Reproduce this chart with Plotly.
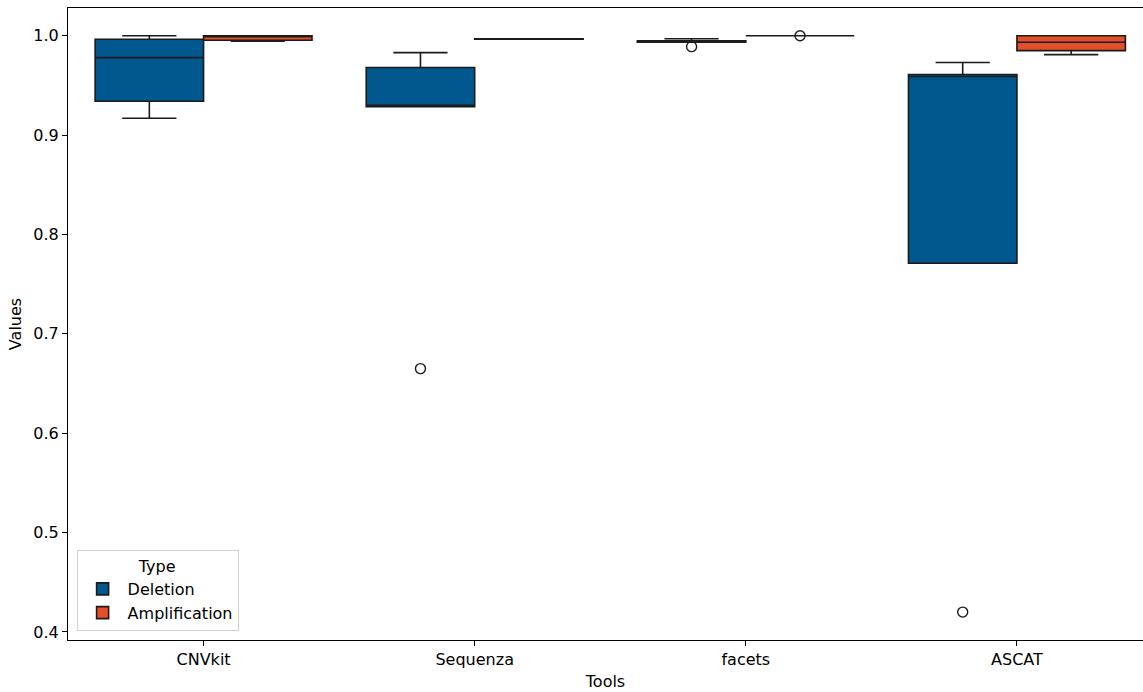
import plotly.graph_objects as go

# Tools on the x axis
tools = ["CNVkit", "Sequenza", "facets", "ASCAT"]

# Deletion box statistics per tool
del_lower = [0.917, 0.9285, 0.9935, 0.771]
del_q1 = [0.934, 0.9285, 0.9935, 0.771]
del_median = [0.978, 0.930, 0.994, 0.959]
del_q3 = [0.9965, 0.968, 0.995, 0.961]
del_upper = [1.0, 0.983, 0.997, 0.973]
del_outlier_tool = ["Sequenza", "facets", "ASCAT"]
del_outlier_value = [0.665, 0.989, 0.420]

# Amplification box statistics per tool
amp_lower = [0.9945, 0.9965, 1.0, 0.981]
amp_q1 = [0.9955, 0.9965, 1.0, 0.985]
amp_median = [0.9995, 0.997, 1.0, 0.9935]
amp_q3 = [1.0, 0.997, 1.0, 1.0]
amp_upper = [1.0, 0.997, 1.0, 1.0]
amp_outlier_tool = ["facets"]
amp_outlier_value = [1.0]

DEL_COLOR = "#01588f"
AMP_COLOR = "#e1502b"
EDGE = "#1b1b1b"
FONT = "DejaVu Sans"
FS = 16

pos = {t: i for i, t in enumerate(tools)}
offset = 0.2
box_w = 0.4

fig = go.Figure()

fig.add_trace(go.Box(
    name="Deletion",
    x=[pos[t] - offset for t in tools],
    lowerfence=del_lower, q1=del_q1, median=del_median, q3=del_q3, upperfence=del_upper,
    width=box_w, whiskerwidth=0.5,
    fillcolor=DEL_COLOR, line=dict(color=EDGE, width=1.6),
    boxpoints=False, hoverinfo="skip",
))
fig.add_trace(go.Box(
    name="Amplification",
    x=[pos[t] + offset for t in tools],
    lowerfence=amp_lower, q1=amp_q1, median=amp_median, q3=amp_q3, upperfence=amp_upper,
    width=box_w, whiskerwidth=0.5,
    fillcolor=AMP_COLOR, line=dict(color=EDGE, width=1.6),
    boxpoints=False, hoverinfo="skip",
))

# Outlier markers
fig.add_trace(go.Scatter(
    x=[pos[t] - offset for t in del_outlier_tool] + [pos[t] + offset for t in amp_outlier_tool],
    y=del_outlier_value + amp_outlier_value,
    mode="markers",
    marker=dict(symbol="circle-open", size=10, color=EDGE, line=dict(width=1.4)),
    showlegend=False, hoverinfo="skip",
))

fig.update_layout(
    width=1143, height=692,
    margin=dict(l=68, r=0, t=8, b=52),
    paper_bgcolor="white", plot_bgcolor="white",
    font=dict(family=FONT, size=FS, color="black"),
    boxmode="overlay",
    showlegend=True,
    legend=dict(
        title=dict(text="Type", side="top center", font=dict(size=FS)),
        x=0.008, y=0.014, xanchor="left", yanchor="bottom",
        bgcolor="rgba(255,255,255,0.8)", bordercolor="#d0d0d0", borderwidth=1,
        font=dict(size=FS), tracegroupgap=2, itemwidth=40,
    ),
    xaxis=dict(
        range=[-0.5, 3.465],
        tickmode="array", tickvals=list(range(len(tools))), ticktext=tools,
        showgrid=False, zeroline=False,
        showline=True, linecolor="black", linewidth=1.2, mirror=True,
        ticks="outside", ticklen=5, tickcolor="black", tickwidth=1,
        title=dict(text="Tools", standoff=7, font=dict(size=FS)),
        tickfont=dict(size=FS),
    ),
    yaxis=dict(
        range=[0.3919, 1.0279],
        tickvals=[0.4, 0.5, 0.6, 0.7, 0.8, 0.9, 1.0], tickformat=".1f",
        showgrid=False, zeroline=False,
        showline=True, linecolor="black", linewidth=1.2,
        ticks="outside", ticklen=5, tickcolor="black", tickwidth=1,
        title=dict(text="Values", standoff=7, font=dict(size=FS)),
        tickfont=dict(size=FS),
    ),
)

fig.write_html("out.html")
